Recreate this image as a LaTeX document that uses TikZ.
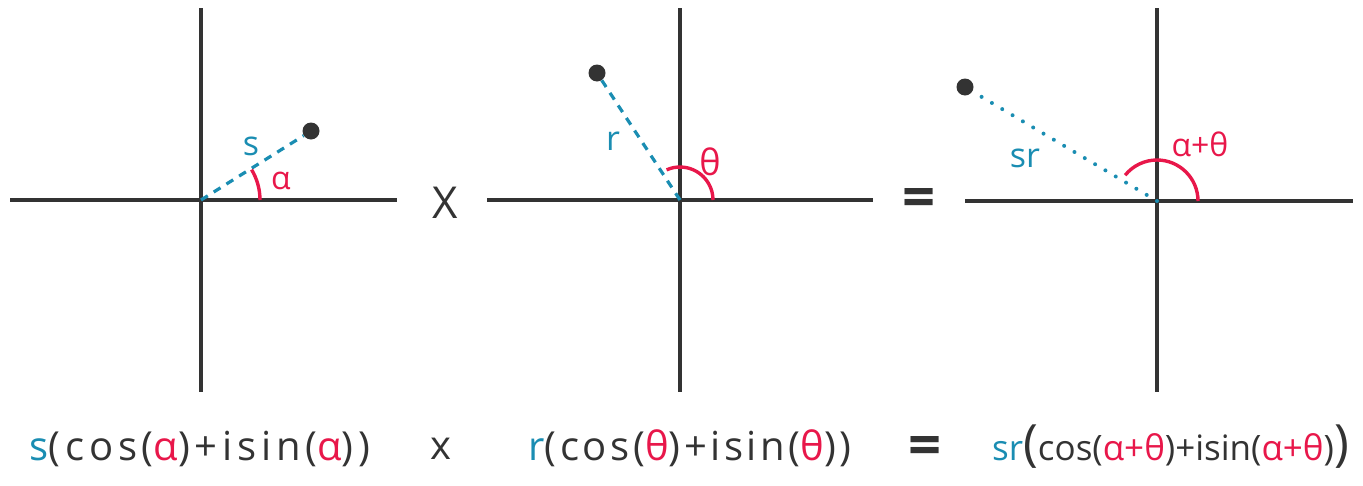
\documentclass[tikz,border=0pt]{standalone}
\usepackage{fontspec}
\setmainfont{Open Sans}
\newfontfamily\formfonta[LetterSpace=12]{Open Sans}
\newfontfamily\formfontb[LetterSpace=9]{Open Sans}
\newfontfamily\formfonttight[LetterSpace=0]{Open Sans}
\definecolor{ink}{HTML}{333333}
\definecolor{myblue}{HTML}{1A8DB2}
\definecolor{myred}{HTML}{E8174A}
\begin{document}
\begin{tikzpicture}[x=1pt,y=-1pt,
  axis/.style={ink, line width=3.2pt},
  dot/.style={circle, fill=ink, inner sep=0pt, minimum size=17pt},
  dashedrad/.style={myblue, line width=3.2pt, dash pattern=on 8pt off 7pt},
  dottedrad/.style={myblue, line width=4pt, line cap=round, dash pattern=on 0pt off 12pt},
  anglearc/.style={myred, line width=3.4pt},
  bluelbl/.style={text=myblue, font=\fontsize{34}{40}\selectfont, inner sep=0pt},
  redlbl/.style={text=myred, font=\fontsize{32}{38}\selectfont, inner sep=0pt},
  opsym/.style={text=ink, font=\fontsize{44}{50}\selectfont, inner sep=0pt},
  eqsym/.style={text=ink, font=\fontsize{58}{60}\selectfont\bfseries, inner sep=0pt},
  formula/.style={text=ink, font=\fontsize{40}{48}\selectfont\formfontb, inner sep=0pt, anchor=base},
]
\useasboundingbox (0,0) rectangle (1363,485);

% ---------- panel 1 ----------
\coordinate (o1) at (201,200);
\coordinate (l1) at (10,200); \coordinate (r1) at (397,200);
\coordinate (t1) at (201,8);  \coordinate (b1) at (201,392);
\draw[axis] (l1) -- (r1);
\draw[axis] (t1) -- (b1);
\node[dot] (p1) at (311,131) {};
\draw[dashedrad] (o1) -- (p1);
\draw[anglearc] ([shift={(0:59pt)}]o1) arc[start angle=0, end angle=31, radius=59pt];
\node[bluelbl] (s1) at (251,146) {s};
\node[redlbl] (a1) at (281,181) {α};

\node[opsym] (times) at (445,203) {X};

% ---------- panel 2 ----------
\coordinate (o2) at (680,200);
\coordinate (l2) at (487,200); \coordinate (r2) at (873,200);
\coordinate (t2) at (680,8);  \coordinate (b2) at (680,392);
\draw[axis] (l2) -- (r2);
\draw[axis] (t2) -- (b2);
\node[dot] (p2) at (597,73) {};
\draw[dashedrad] (o2) -- (p2);
\draw[anglearc] ([shift={(0:33pt)}]o2) arc[start angle=0, end angle=114, radius=33pt];
\node[bluelbl] (r2l) at (613,141) {r};
\node[redlbl, font=\fontsize{36}{40}\selectfont] (th2) at (710,162) {θ};

\node[eqsym] (eq) at (919,203) {=};

% ---------- panel 3 ----------
\coordinate (o3) at (1157,201);
\coordinate (l3) at (965,201); \coordinate (r3) at (1353,201);
\coordinate (t3) at (1157,8);  \coordinate (b3) at (1157,392);
\draw[axis] (l3) -- (r3);
\draw[axis] (t3) -- (b3);
\node[dot] (p3) at (965,87) {};
\draw[dottedrad] (o3) -- (p3);
\draw[anglearc] ([shift={(0:41pt)}]o3) arc[start angle=0, end angle=141, radius=41pt];
\node[bluelbl] (sr3) at (1025,158) {sr};
\node[redlbl] (at3) at (1200,144) {α+θ};

% ---------- formulas ----------
\node[formula, font=\fontsize{40}{48}\selectfont\formfonta] (f1) at (200,460) {\textcolor{myblue}{s}(cos(\textcolor{myred}{α})+isin(\textcolor{myred}{α}))};
\node[formula] (fx) at (441,459) {x};
\node[formula] (f2) at (690,460) {\textcolor{myblue}{r}(cos(\textcolor{myred}{θ})+isin(\textcolor{myred}{θ}))};
\node[eqsym, anchor=base] (feq) at (925,465) {=};
\node[formula, anchor=base west, font=\fontsize{35}{42}\selectfont\formfonttight] (f3) at (992,460) {\textcolor{myblue}{sr}{\fontsize{50}{50}\selectfont(}cos(\textcolor{myred}{α+θ})+isin(\textcolor{myred}{α+θ}){\fontsize{50}{50}\selectfont)}};
\end{tikzpicture}
\end{document}
